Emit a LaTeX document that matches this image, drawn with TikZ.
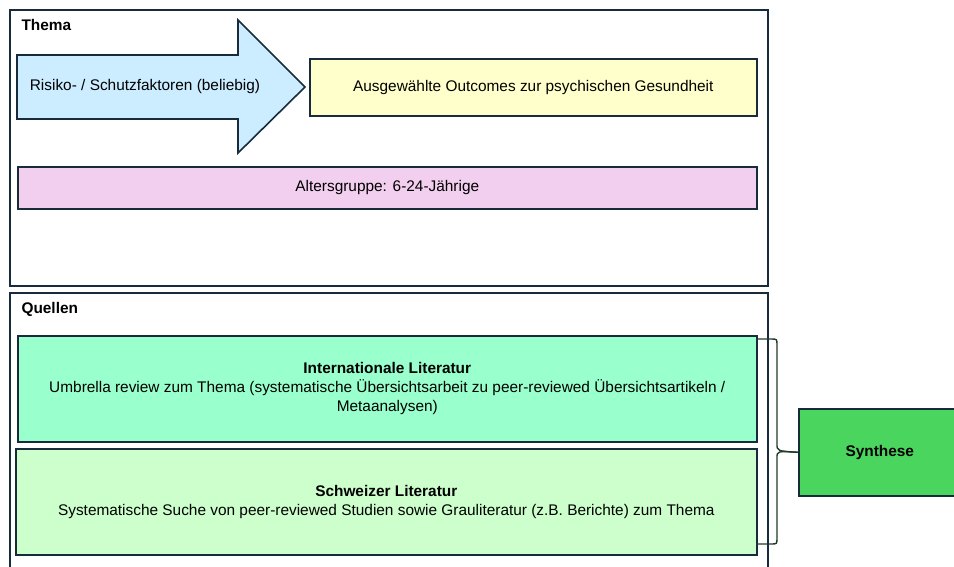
\documentclass[tikz,border=0pt]{standalone}
\usepackage{fontspec}
\setmainfont{Liberation Sans}
\usetikzlibrary{positioning}
\definecolor{framecol}{RGB}{23,43,61}
\definecolor{arrowblue}{RGB}{204,236,255}
\definecolor{outyellow}{RGB}{255,255,204}
\definecolor{agepink}{RGB}{242,206,239}
\definecolor{intgreen}{RGB}{153,255,204}
\definecolor{chgreen}{RGB}{204,255,204}
\definecolor{synthgreen}{RGB}{74,213,94}
\definecolor{bracecol}{RGB}{30,60,40}
\newcommand{\diafont}{\fontsize{15.4}{19}\selectfont}
\tikzset{
	frame/.style={draw=framecol,line width=1.6pt},
	box/.style 2 args={draw=framecol,line width=1.6pt,fill=#1,anchor=north west,minimum width=#2,inner sep=0pt,align=center},
	title/.style={font=\diafont\bfseries,anchor=west},
	bracestyle/.style={draw=bracecol,line width=1.4pt}
}

\begin{document}
\begin{tikzpicture}[x=1pt,y=-1pt,font=\diafont]
	\useasboundingbox (0,0) rectangle (954,566);
	\clip (0,0) rectangle (954,566);

	% Thema
	\draw[frame] (10,10) rectangle (768,286);
	\node[title] (thema) at (18,25) {Thema};
	\draw[frame,fill=arrowblue] (17,55) -- (238,55) -- (238,20) -- (305,87) -- (238,153) -- (238,119) -- (17,119) -- cycle;
	\node (risk) at (145,87) {Risiko- / Schutzfaktoren (beliebig)};
	\node[box={outyellow}{447},minimum height=57] (outcome) at (309,58) {Ausgewählte Outcomes zur psychischen Gesundheit};
	\node[box={agepink}{739},minimum height=42] (age) at (17,166) {Altersgruppe: 6-24-Jährige};

	% Quellen
	\draw[frame] (10,293) rectangle (768,590);
	\node[title] (quellen) at (18,309) {Quellen};
	\node[box={intgreen}{739},minimum height=106] (int) at (17,335) {\textbf{Internationale Literatur}\\Umbrella review zum Thema (systematische Übersichtsarbeit zu peer-reviewed Übersichtsartikeln /\\Metaanalysen)};
	\node[box={chgreen}{741},minimum height=106] (ch) at (15,448) {\textbf{Schweizer Literatur}\\Systematische Suche von peer-reviewed Studien sowie Grauliteratur (z.B. Berichte) zum Thema};

	\node[box={synthgreen}{162},minimum height=87,font=\diafont\bfseries] (synth) at (798,408) {Synthese};

	% Klammer
	\coordinate (bt) at (756,339);
	\coordinate (bb) at (756,544);
	\draw[bracestyle] (bt) -- (771,339) .. controls (777,339) .. (777,345) -- (777,444) .. controls (777,451) .. (synth.west);
	\draw[bracestyle] (synth.west) .. controls (777,451) .. (777,458) -- (777,538) .. controls (777,544) .. (771,544) -- (bb);
\end{tikzpicture}
\end{document}
